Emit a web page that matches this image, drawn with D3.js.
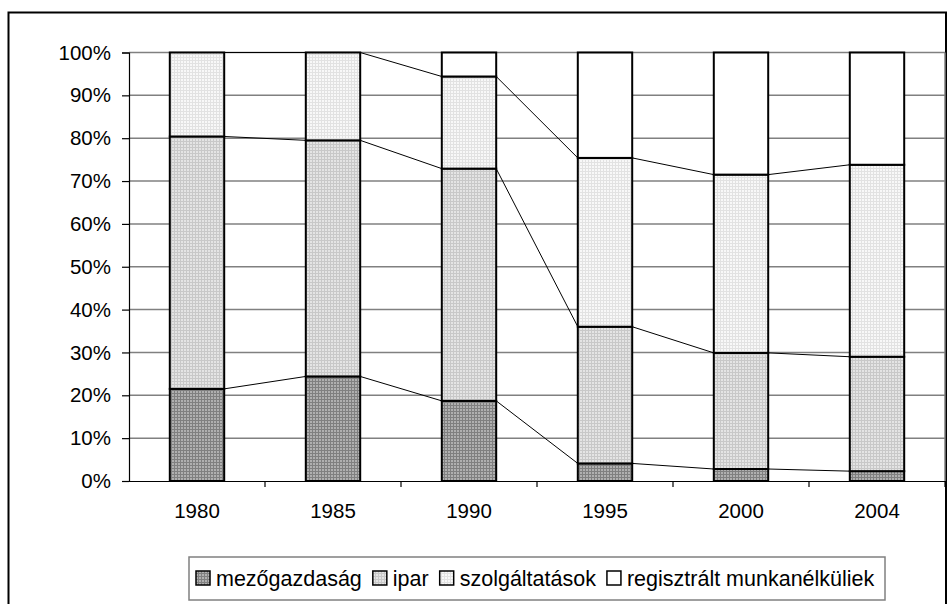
<!DOCTYPE html>
<html><head><meta charset="utf-8">
<script src="https://cdn.jsdelivr.net/npm/d3@7/dist/d3.min.js"></script>
<style>body{margin:0;background:#fff}svg{display:block;font-family:"Liberation Sans",Arial,sans-serif}</style>
</head><body><svg id="c" width="952" height="604"></svg>
<script>
const years = ["1980","1985","1990","1995","2000","2004"];
const seriesNames = ["mezőgazdaság","ipar","szolgáltatások","regisztrált munkanélküliek"];
const mezogazdasag = [21.5, 24.4, 18.7, 4.1, 2.8, 2.3];
const ipar = [58.9, 55.1, 54.2, 31.9, 27.1, 26.7];
const szolgaltatasok = [19.6, 20.5, 21.5, 39.4, 41.6, 44.8];
const munkanelkuliek = [0, 0, 5.6, 24.6, 28.5, 26.2];
const yTicks = [0,10,20,30,40,50,60,70,80,90,100];

const svg = d3.select("#c");
const defs = svg.append("defs");
function pat(id, bg, dot) {
  const p = defs.append("pattern").attr("id", id).attr("width", 3).attr("height", 3).attr("patternUnits", "userSpaceOnUse");
  p.append("rect").attr("width", 3).attr("height", 3).attr("fill", bg);
  p.append("rect").attr("x", 0).attr("y", 0).attr("width", 1).attr("height", 3).attr("fill", dot);
  p.append("rect").attr("x", 0).attr("y", 0).attr("width", 3).attr("height", 1).attr("fill", dot);
}
pat("p0", "#b0b0b0", "#808080");
pat("p1", "#e4e4e4", "#c8c8c8");
pat("p2", "#f8f8f8", "#e2e2e2");
const fills = ["url(#p0)","url(#p1)","url(#p2)","#ffffff"];

// outer frame
svg.append("rect").attr("x", 8.5).attr("y", 12.5).attr("width", 937.5).attr("height", 620)
  .attr("fill", "none").attr("stroke", "#000").attr("stroke-width", 2);

const L = 129, R = 945, T = 52.5, B = 481;
const x = d3.scaleBand().domain(years).range([L, R]).paddingInner(0.6).paddingOuter(0.3);
const xb = d3.scaleBand().domain(years).range([L, R]);
const y = d3.scaleLinear().domain([0, 100]).range([B, T]);

// gridlines
svg.append("g").selectAll("line").data(yTicks.filter(d => d > 0)).join("line")
  .attr("x1", L).attr("x2", R).attr("y1", d => y(d)).attr("y2", d => y(d))
  .attr("stroke", "#808080").attr("stroke-width", 1.5);

// right edge of plot
svg.append("line").attr("x1", R).attr("x2", R).attr("y1", T).attr("y2", B).attr("stroke", "#808080").attr("stroke-width", 1.5);

// y axis
const yAxis = d3.axisLeft(y).tickValues(yTicks).tickFormat(d => d + "%").tickSize(7).tickPadding(11);
const yg = svg.append("g").attr("transform", `translate(${L},0)`).call(yAxis);
yg.select(".domain").attr("stroke", "#000").attr("stroke-width", 1.2);
yg.selectAll(".tick line").attr("stroke", "#000").attr("stroke-width", 1.2);
yg.selectAll("text").attr("font-size", 20.5).attr("fill", "#000").attr("font-family", "Liberation Sans, Arial, sans-serif");

// stack
const rows = years.map((yr, i) => ({year: yr, s0: mezogazdasag[i], s1: ipar[i], s2: szolgaltatasok[i], s3: munkanelkuliek[i]}));
const stack = d3.stack().keys(["s0","s1","s2","s3"])(rows);

// series connector lines
stack.forEach((layer, k) => {
  if (k === 3) return;
  for (let i = 0; i < years.length - 1; i++) {
    svg.append("line")
      .attr("x1", x(years[i]) + x.bandwidth()).attr("y1", y(layer[i][1]))
      .attr("x2", x(years[i+1])).attr("y2", y(layer[i+1][1]))
      .attr("stroke", "#000").attr("stroke-width", 1);
  }
});

// bars
stack.forEach((layer, k) => {
  svg.append("g").selectAll("rect").data(layer).join("rect")
    .attr("x", d => x(d.data.year)).attr("width", x.bandwidth())
    .attr("y", d => y(d[1])).attr("height", d => y(d[0]) - y(d[1]))
    .attr("fill", fills[k]).attr("stroke", d => (d[1]-d[0]) > 0 ? "#000" : "none").attr("stroke-width", 2);
});

// x axis
const xAxis = d3.axisBottom(xb).tickSize(0).tickPadding(22);
const xg = svg.append("g").attr("transform", `translate(0,${B})`).call(xAxis);
xg.select(".domain").attr("stroke", "#000").attr("stroke-width", 1.2);
xg.selectAll("text").attr("font-size", 20.5).attr("fill", "#000").attr("font-family", "Liberation Sans, Arial, sans-serif");
svg.append("g").selectAll("line").data(years).join("line")
  .attr("x1", d => xb(d) + xb.bandwidth()).attr("x2", d => xb(d) + xb.bandwidth())
  .attr("y1", B).attr("y2", B + 6).attr("stroke", "#000").attr("stroke-width", 1.2);

// legend
svg.append("rect").attr("x", 189).attr("y", 557).attr("width", 696).attr("height", 43)
  .attr("fill", "#fff").attr("stroke", "#808080").attr("stroke-width", 1.5);
let lx = 196;
seriesNames.forEach((name, k) => {
  svg.append("rect").attr("x", lx).attr("y", 571).attr("width", 14).attr("height", 14)
    .attr("fill", fills[k]).attr("stroke", "#000").attr("stroke-width", 1.5);
  const t = svg.append("text").attr("x", lx + 20).attr("y", 586).attr("font-size", 21.5).text(name);
  lx += 20 + t.node().getComputedTextLength() + 11;
});
</script></body></html>
